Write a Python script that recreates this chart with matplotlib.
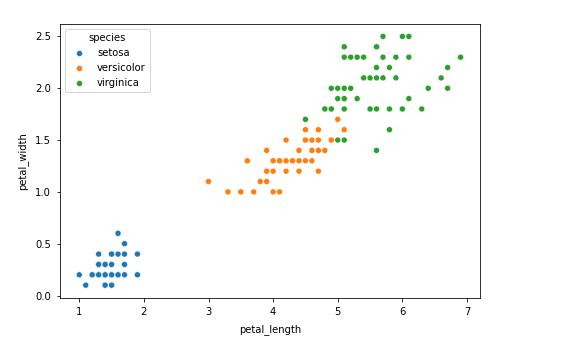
import matplotlib
matplotlib.use("Agg")
import matplotlib.pyplot as plt
import seaborn as sns
import pandas as pd

# iris petal measurements
setosa_length = [1.4, 1.4, 1.3, 1.5, 1.4, 1.7, 1.4, 1.5, 1.4, 1.5, 1.5, 1.6, 1.4, 1.1, 1.2, 1.5, 1.3, 1.4, 1.7, 1.5,
                 1.7, 1.5, 1.0, 1.7, 1.9, 1.6, 1.6, 1.5, 1.4, 1.6, 1.6, 1.5, 1.5, 1.4, 1.5, 1.2, 1.3, 1.4, 1.3, 1.5,
                 1.3, 1.3, 1.3, 1.6, 1.9, 1.4, 1.6, 1.4, 1.5, 1.4]
setosa_width = [0.2, 0.2, 0.2, 0.2, 0.2, 0.4, 0.3, 0.2, 0.2, 0.1, 0.2, 0.2, 0.1, 0.1, 0.2, 0.4, 0.4, 0.3, 0.3, 0.3,
                0.2, 0.4, 0.2, 0.5, 0.2, 0.2, 0.4, 0.2, 0.2, 0.2, 0.2, 0.4, 0.1, 0.2, 0.2, 0.2, 0.2, 0.1, 0.2, 0.2,
                0.3, 0.3, 0.2, 0.6, 0.4, 0.3, 0.2, 0.2, 0.2, 0.2]
versicolor_length = [4.7, 4.5, 4.9, 4.0, 4.6, 4.5, 4.7, 3.3, 4.6, 3.9, 3.5, 4.2, 4.0, 4.7, 3.6, 4.4, 4.5, 4.1, 4.5, 3.9,
                     4.8, 4.0, 4.9, 4.7, 4.3, 4.4, 4.8, 5.0, 4.5, 3.5, 3.8, 3.7, 3.9, 5.1, 4.5, 4.5, 4.7, 4.4, 4.1, 4.0,
                     4.4, 4.6, 4.0, 3.3, 4.2, 4.2, 4.2, 4.3, 3.0, 4.1]
versicolor_width = [1.4, 1.5, 1.5, 1.3, 1.5, 1.3, 1.6, 1.0, 1.3, 1.4, 1.0, 1.5, 1.0, 1.4, 1.3, 1.4, 1.5, 1.0, 1.5, 1.1,
                    1.8, 1.3, 1.5, 1.2, 1.3, 1.4, 1.4, 1.7, 1.5, 1.0, 1.1, 1.0, 1.2, 1.6, 1.5, 1.6, 1.5, 1.3, 1.3, 1.3,
                    1.2, 1.4, 1.2, 1.0, 1.3, 1.2, 1.3, 1.3, 1.1, 1.3]
virginica_length = [6.0, 5.1, 5.9, 5.6, 5.8, 6.6, 4.5, 6.3, 5.8, 6.1, 5.1, 5.3, 5.5, 5.0, 5.1, 5.3, 5.5, 6.7, 6.9, 5.0,
                    5.7, 4.9, 6.7, 4.9, 5.7, 6.0, 4.8, 4.9, 5.6, 5.8, 6.1, 6.4, 5.6, 5.1, 5.6, 6.1, 5.6, 5.5, 4.8, 5.4,
                    5.6, 5.1, 5.1, 5.9, 5.7, 5.2, 5.0, 5.2, 5.4, 5.1]
virginica_width = [2.5, 1.9, 2.1, 1.8, 2.2, 2.1, 1.7, 1.8, 1.8, 2.5, 2.0, 1.9, 2.1, 2.0, 2.4, 2.3, 1.8, 2.2, 2.3, 1.5,
                   2.3, 2.0, 2.0, 1.8, 2.1, 1.8, 1.8, 1.8, 2.1, 1.6, 1.9, 2.0, 2.2, 1.5, 1.4, 2.3, 2.4, 1.8, 1.8, 2.1,
                   2.4, 2.3, 1.9, 2.3, 2.5, 2.3, 1.9, 2.0, 2.3, 1.8]

df = pd.DataFrame({
    "petal_length": setosa_length + versicolor_length + virginica_length,
    "petal_width": setosa_width + versicolor_width + virginica_width,
    "species": ["setosa"] * 50 + ["versicolor"] * 50 + ["virginica"] * 50,
})

fig = plt.figure(figsize=(8, 352 / 72), dpi=72)
ax = fig.add_axes([60.2 / 576, 54.4 / 352, 419.4 / 576, 273.6 / 352])
sns.scatterplot(data=df, x="petal_length", y="petal_width", hue="species", ax=ax)
ax.tick_params(pad=5.5)
ax.set_xlabel("petal_length", labelpad=7)
ax.set_ylabel("petal_width", labelpad=7)
fig.savefig("out.png", dpi=72)
